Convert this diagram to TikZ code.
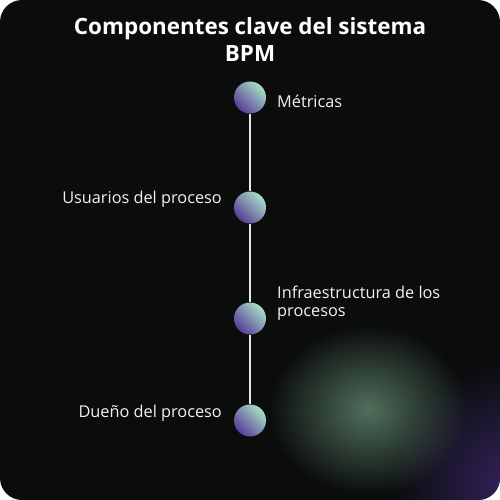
\documentclass[tikz,border=0pt]{standalone}
\usepackage{fontspec}
\setmainfont{Open Sans}
\usetikzlibrary{fadings}
\definecolor{bgdark}{HTML}{0B0C0C}
\definecolor{mint}{HTML}{A6DFC6}
\definecolor{violet}{HTML}{5A3B98}
\definecolor{glowgreen}{HTML}{50705D}
\definecolor{glowpurple}{HTML}{34245F}
\definecolor{linegray}{HTML}{E6E6E6}
\definecolor{labelwhite}{HTML}{F2F2F2}
\tikzfading[name=glowfade, inner color=transparent!0, outer color=transparent!100]
\tikzset{
  dot/.style={circle, minimum size=32pt, inner sep=0pt, shading=axis,
    left color=violet, right color=mint, shading angle=135},
  lbl/.style={text=labelwhite, font=\fontsize{16.3}{18.3}\selectfont, inner sep=0pt, align=left},
  spine/.style={draw=linegray, line width=2pt},
}
\begin{document}
\begin{tikzpicture}[x=1pt,y=-1pt]
\useasboundingbox (0,0) rectangle (500,500);
\fill[white] (0,0) rectangle (500,500);
\begin{scope}
\clip[rounded corners=22pt] (0,0) rectangle (500,500);
\fill[bgdark] (0,0) rectangle (500,500);
\fill[glowpurple, path fading=glowfade] (515,485) ellipse [x radius=125pt, y radius=125pt];
\fill[glowgreen, path fading=glowfade] (368,410) ellipse [x radius=100pt, y radius=85pt];
\end{scope}
\node[text=white, font=\fontsize{22.4}{26.5}\selectfont\bfseries, align=center, inner sep=0pt, anchor=base] (title) at (250,61.5) {Componentes clave del sistema\\BPM};
\node[dot] (c1) at (250,97.5) {};
\node[dot] (c2) at (250,207.5) {};
\node[dot] (c3) at (250,318.5) {};
\node[dot] (c4) at (250,420.5) {};
\draw[spine] (c1) -- (c2);
\draw[spine] (c2) -- (c3);
\draw[spine] (c3) -- (c4);
\node[lbl, anchor=base west] (t1) at (277,107) {Métricas};
\node[lbl, anchor=base east] (t2) at (222,203) {Usuarios del proceso};
\node[lbl, anchor=base west] (t3) at (277,316.5) {Infraestructura de los\\procesos};
\node[lbl, anchor=base east] (t4) at (222,417) {Dueño del proceso};
\end{tikzpicture}
\end{document}
